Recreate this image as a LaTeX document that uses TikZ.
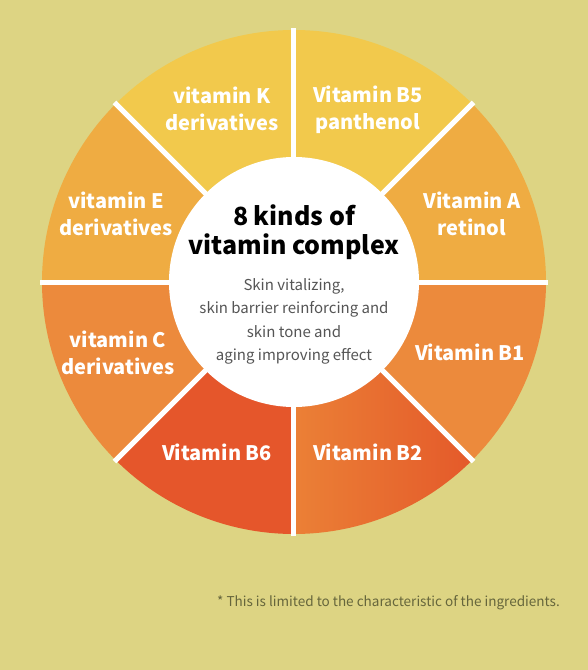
\documentclass[tikz,border=0pt]{standalone}
\usepackage{fontspec}
\setmainfont{Noto Sans CJK KR}
\usepackage{xcolor}
\usepackage{tikz}
\usetikzlibrary{positioning}

\definecolor{bgolive}{HTML}{DDD483}
\definecolor{wyellow}{HTML}{F2C94C}
\definecolor{wamber}{HTML}{EFAC42}
\definecolor{worange}{HTML}{EC8A3C}
\definecolor{wred}{HTML}{E5562B}
\definecolor{wlight}{HTML}{EB8036}
\definecolor{wdeep}{HTML}{E4592A}
\definecolor{subgrey}{HTML}{555555}
\definecolor{notegrey}{HTML}{66663C}

\begin{document}
\begin{tikzpicture}[
  x=1pt, y=1pt,
  wlabel/.style={text=white, font=\fontsize{20}{27}\selectfont\bfseries, align=center},
  title/.style={text=black, font=\fontsize{25}{29}\selectfont\bfseries, align=center},
  sub/.style={text=subgrey, font=\fontsize{15}{23.5}\selectfont, align=center},
  note/.style={text=notegrey, font=\fontsize{13.55}{16}\selectfont, anchor=east, inner sep=0pt},
  gap/.style={white, line width=5pt}
]
  % background and page size
  \fill[bgolive] (-294,-388) rectangle (294,282);
  \useasboundingbox (-294,-388) rectangle (294,282);

  % eight wedges
  \foreach \a/\c in {0/wamber, 45/wyellow, 90/wyellow, 135/wamber, 180/worange, 225/wred, 315/worange}
    \fill[\c] (0,0) -- (\a:252) arc[start angle=\a, delta angle=45, radius=252] -- cycle;
  \begin{scope}
    \clip (0,0) -- (270:252) arc[start angle=270, delta angle=45, radius=252] -- cycle;
    \shade[left color=wlight, right color=wdeep] (0,-252) rectangle (180,0);
  \end{scope}

  % separators and centre
  \foreach \a in {0,45,...,315}
    \draw[gap] (0,0) -- (\a:254);
  \fill[white] (0,0) circle[radius=125];

  % labels
  \node[wlabel] (vk) at (-72,173) {vitamin K\\derivatives};
  \node[wlabel] (vb5) at (74,172) {Vitamin B5\\panthenol};
  \node[wlabel] (ve) at (-178,68) {vitamin E\\derivatives};
  \node[wlabel] (va) at (178,68) {Vitamin A\\retinol};
  \node[wlabel] (vc) at (-176,-71) {vitamin C\\derivatives};
  \node[wlabel] (vb1) at (176,-70) {Vitamin B1};
  \node[wlabel] (vb6) at (-77,-170) {Vitamin B6};
  \node[wlabel] (vb2) at (74,-170) {Vitamin B2};

  \node[title] (head) at (0,50) {8 kinds of\\vitamin complex};
  \node[sub, below=12pt of head] (effect) {Skin vitalizing,\\skin barrier reinforcing and\\skin tone and\\aging improving effect};

  \node[note] (foot) at (266,-321) {* This is limited to the characteristic of the ingredients.};
\end{tikzpicture}
\end{document}
